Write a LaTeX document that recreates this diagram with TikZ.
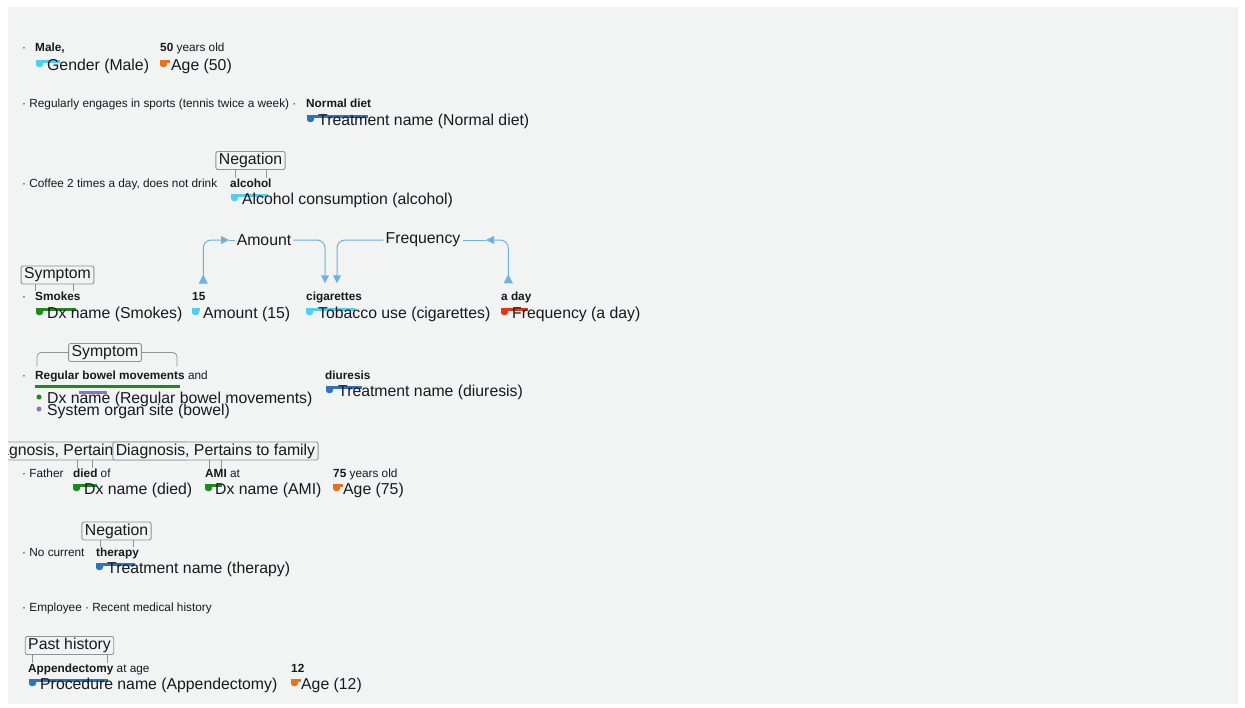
\documentclass[tikz,border=0pt]{standalone}
\usepackage{fontspec}
\setmainfont{Liberation Sans}
\usepackage{xcolor}
\definecolor{panel}{HTML}{F2F3F3}
\definecolor{ink}{HTML}{16191F}
\definecolor{tagline}{HTML}{8F9595}
\definecolor{relblue}{HTML}{6DB3E2}
\definecolor{mcyan}{HTML}{52CDEE}
\definecolor{morange}{HTML}{E8721C}
\definecolor{mblue}{HTML}{2F74B9}
\definecolor{mgreen}{HTML}{1E8A1E}
\definecolor{mred}{HTML}{D9381A}
\definecolor{mpurple}{HTML}{8B72CC}
\usetikzlibrary{arrows.meta,calc}

% entity marker: colour, left x, right x, top y
\newcommand{\markbar}[4]{%
  \fill[#1] (#2,#4) rectangle (#3,#4+3);
  \fill[#1,rounded corners=2.5pt] (#2,#4) rectangle (#2+7,#4+7);}

\begin{document}
\begin{tikzpicture}[
  x=1pt,y=-1pt,
  text=ink,
  every node/.style={inner sep=0pt},
  ent/.style={anchor=base west,font=\fontsize{11.8}{13}\selectfont},
  cpt/.style={anchor=base west,font=\fontsize{15.8}{16}\selectfont},
  tagbox/.style={draw=tagline,line width=0.9pt,rounded corners=2pt,fill=panel,
              inner xsep=3pt,inner ysep=1pt,minimum height=18pt,
              font=\fontsize{15.8}{16}\selectfont},
  rellabel/.style={font=\fontsize{15.8}{16}\selectfont,inner sep=2pt},
  rel/.style={draw=relblue,line width=1pt,rounded corners=8pt},
  reltips/.style={{Triangle[reversed,length=9pt,width=9pt]}-{Triangle[length=8pt,width=8pt]}},
  relhead/.style={-{Triangle[length=8pt,width=8pt]}},
  tick/.style={draw=tagline,line width=0.8pt},
]

% --- canvas
\useasboundingbox (0,0) rectangle (1245,707);
\fill[white] (0,0) rectangle (1245,707);
\fill[panel] (8,7) rectangle (1238,704);

% --- row 1: gender, age
\node[ent] (b1) at (22,51) {·};
\node[ent] (male) at (35,51) {\textbf{Male,}};
\node[ent] (fifty) at (160,51) {\textbf{50} years old};
\markbar{mcyan}{36}{60}{60}
\markbar{morange}{160}{170}{60}
\node[cpt] (gender) at (47,70) {Gender (Male)};
\node[cpt] (age50) at (171,70) {Age (50)};

% --- row 2: diet
\node[ent] (sports) at (22,107) {· Regularly engages in sports (tennis twice a week) ·};
\node[ent] (diet) at (306,107) {\textbf{Normal diet}};
\markbar{mblue}{307}{368}{115}
\node[cpt] (dietc) at (318,125) {Treatment name (Normal diet)};

% --- row 3: alcohol, negated
\node[tagbox] (neg1) at (250.5,160.5) {Negation};
\node[ent] (coffee) at (22,187) {· Coffee 2 times a day, does not drink};
\node[ent] (alc) at (230,187) {\textbf{alcohol}};
\draw[tick] (235,0 |- neg1.south) -- (235,0 |- alc.north);
\draw[tick] (266,0 |- neg1.south) -- (266,0 |- alc.north);
\markbar{mcyan}{231}{268}{194}
\node[cpt] (alcc) at (242,204) {Alcohol consumption (alcohol)};

% --- row 4: smoking with relations
\node[tagbox] (sym1) at (57.5,275) {Symptom};
\node[ent] (b4) at (22,300) {·};
\node[ent] (smokes) at (35,300) {\textbf{Smokes}};
\node[ent] (n15) at (192,300) {\textbf{15}};
\node[ent] (cig) at (306,300) {\textbf{cigarettes}};
\node[ent] (aday) at (501,300) {\textbf{a day}};
\draw[tick] (35,0 |- sym1.south) -- (35,0 |- smokes.north);
\draw[tick] (73,0 |- sym1.south) -- (73,0 |- smokes.north);
\markbar{mgreen}{36}{76}{308}
\markbar{mcyan}{192}{200}{308}
\markbar{mcyan}{306}{355}{308}
\markbar{mred}{501}{528}{308}
\node[cpt] (smokesc) at (47,318) {Dx name (Smokes)};
\node[cpt] (n15c) at (203,318) {Amount (15)};
\node[cpt] (cigc) at (318,318) {Tobacco use (cigarettes)};
\node[cpt] (adayc) at (512,318) {Frequency (a day)};

\node[rellabel] (lamount) at (264,240) {Amount};
\node[rellabel] (lfreq) at (423,240) {Frequency};
\coordinate (amttail) at ([xshift=4.5pt,yshift=8pt]n15.north);
\coordinate (amtmid) at (229,240);
\coordinate (frqtail) at ([xshift=-8pt,yshift=8pt]aday.north);
\coordinate (frqmid) at (486,240);
\draw[rel,reltips] (amttail) |- (amtmid);
\draw[rel] (amtmid) -- (lamount.west);
\draw[rel,relhead] (lamount.east) -| ([xshift=19pt,yshift=8pt]cig.north west);
\draw[rel,reltips] (frqtail) |- (frqmid);
\draw[rel] (frqmid) -- (lfreq.east);
\draw[rel,relhead] (lfreq.west) -| ([xshift=31pt,yshift=8pt]cig.north west);

% --- row 5: bowel movements, diuresis
\node[ent] (b5) at (22,379) {·};
\node[ent] (bowel) at (35,379) {\textbf{Regular bowel movements}};
\node[ent] (and) at ([xshift=3pt]bowel.base east) {and};
\node[tagbox] (sym2) at (105,352.5) {Symptom};
\draw[tick,rounded corners=4pt] ([xshift=2pt,yshift=4pt]bowel.north west) |- (sym2.west);
\draw[tick,rounded corners=4pt] (sym2.east) -| ([xshift=-8pt,yshift=4pt]bowel.north east);
\fill[mgreen] (35,385) rectangle (180,388);
\fill[mpurple] (79,391) rectangle (107,394);
\fill[mgreen] (39,397) circle (2.5pt);
\fill[mpurple] (39,409) circle (2.5pt);
\node[cpt] (bowelc) at (47,403) {Dx name (Regular bowel movements)};
\node[cpt] (organ) at (47,415) {System organ site (bowel)};
\node[ent] (diur) at (325,379) {\textbf{diuresis}};
\markbar{mblue}{326}{362}{386}
\node[cpt] (diurc) at (338,396) {Treatment name (diuresis)};

% --- row 6: family history
\begin{scope}
  \clip (8,7) rectangle (1238,704);
  \node[tagbox] (dia1) at (85,451) {Diagnosis, Pertains to family};
\end{scope}
\node[tagbox] (dia2) at (215.5,451) {Diagnosis, Pertains to family};
\node[ent] (father) at (22,477) {· Father};
\node[ent] (died) at (73,477) {\textbf{died} of};
\node[ent] (ami) at (205,477) {\textbf{AMI} at};
\node[ent] (sev) at (333,477) {\textbf{75} years old};
\draw[tick] (77,0 |- dia1.south) -- (77,0 |- died.north);
\draw[tick] (92,0 |- dia1.south) -- (92,0 |- died.north);
\draw[tick] (209,0 |- dia2.south) -- (209,0 |- ami.north);
\draw[tick] (221,0 |- dia2.south) -- (221,0 |- ami.north);
\markbar{mgreen}{73}{97}{484}
\markbar{mgreen}{205}{222}{484}
\markbar{morange}{333}{343}{484}
\node[cpt] (diedc) at (84,494) {Dx name (died)};
\node[cpt] (amic) at (215,494) {Dx name (AMI)};
\node[cpt] (age75) at (343,494) {Age (75)};

% --- row 7: therapy, negated
\node[tagbox] (neg2) at (116.5,531) {Negation};
\node[ent] (nocur) at (22,556) {· No current};
\node[ent] (ther) at (96,556) {\textbf{therapy}};
\draw[tick] (100,0 |- neg2.south) -- (100,0 |- ther.north);
\draw[tick] (133,0 |- neg2.south) -- (133,0 |- ther.north);
\markbar{mblue}{96}{135}{563}
\node[cpt] (therc) at (107,573) {Treatment name (therapy)};

% --- row 8
\node[ent] (employ) at (22,611) {· Employee · Recent medical history};

% --- row 9: past history
\node[tagbox] (past) at (69.5,645.5) {Past history};
\node[ent] (appy) at (28,672) {\textbf{Appendectomy} at age};
\node[ent] (twelve) at (291,672) {\textbf{12}};
\draw[tick] (32,0 |- past.south) -- (32,0 |- appy.north);
\draw[tick] (107,0 |- past.south) -- (107,0 |- appy.north);
\markbar{mblue}{29}{108}{679}
\markbar{morange}{291}{301}{679}
\node[cpt] (appyc) at (40,689) {Procedure name (Appendectomy)};
\node[cpt] (age12) at (301,689) {Age (12)};

\end{tikzpicture}
\end{document}
